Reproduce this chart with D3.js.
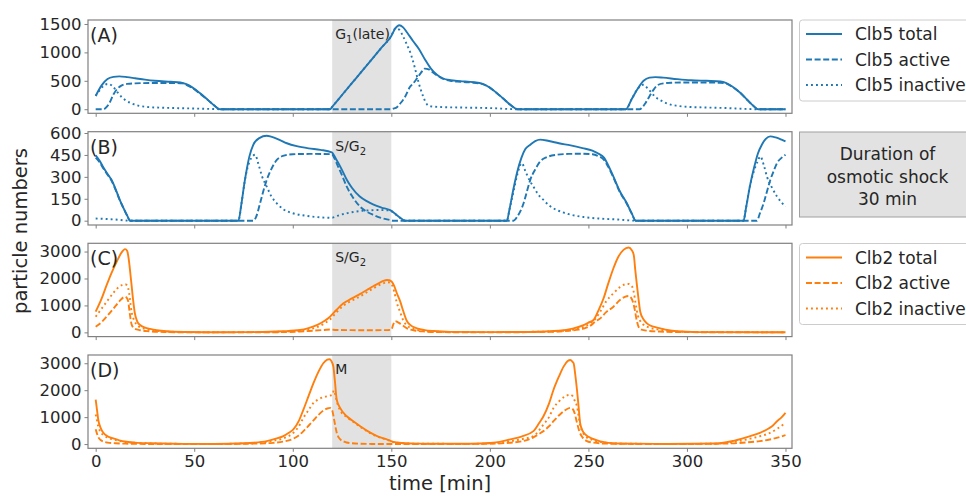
<!DOCTYPE html>
<html><head><meta charset="utf-8">
<script src="https://cdn.jsdelivr.net/npm/d3@7"></script>
<style>body{margin:0;background:#fff} text{font-family:"DejaVu Sans",sans-serif;fill:#262626}</style>
</head><body><svg id="c" width="966" height="496"></svg>
<script>
// ---------------- data ----------------
const xTicks = [0, 50, 100, 150, 200, 250, 300, 350];
const shock = [120, 150];
const panelLabels = ["(A)", "(B)", "(C)", "(D)"];
const phaseLabels = [["G", "1", "(late)"], ["S/G", "2", ""], ["S/G", "2", ""], ["M", "", ""]];
const yTicksA = [0, 500, 1000, 1500];
const yTicksB = [0, 150, 300, 450, 600];
const yTicksC = [0, 1000, 2000, 3000];
const yTicksD = [0, 1000, 2000, 3000];
const legendClb5 = ["Clb5 total", "Clb5 active", "Clb5 inactive"];
const legendClb2 = ["Clb2 total", "Clb2 active", "Clb2 inactive"];
const noteLines = ["Duration of", "osmotic shock", "30 min"];

const clb5TotalA = [[0,235],[3,420],[6,530],[9,568],[12,578],[16,565],[20,545],[25,520],[30,500],[38,482],[43,470],[46,440],[49,385],[53,280],[57,160],[60,70],[63,0],[119,0],[120,42],[122,125],[125,250],[130,458],[135,666],[140,874],[145,1082],[150,1290],[152,1420],[154,1478],[156,1440],[158,1350],[161,1200],[164,1060],[167,880],[170,720],[173,610],[176,545],[180,510],[185,495],[192,475],[196,450],[200,380],[204,270],[208,150],[211,60],[214,0],[269,0],[272,180],[275,360],[278,500],[281,555],[284,565],[288,555],[295,530],[302,510],[310,500],[317,490],[320,460],[323,400],[327,290],[331,150],[334,50],[336,0],[350,0]];
const clb5ActiveA = [[0,0],[4,0],[5,20],[7,110],[9,260],[11,360],[13,415],[16,445],[20,455],[30,462],[40,462],[44,455],[47,410],[50,350],[53,270],[57,160],[60,70],[63,0],[150,0],[151,10],[153,40],[154.5,100],[157,220],[159.5,394],[161,450],[163,542],[165,640],[167,715],[169,700],[171,650],[173,600],[176,540],[180,500],[185,482],[192,465],[196,445],[200,378],[204,268],[208,150],[211,60],[214,0],[276,0],[277,20],[279,110],[281,230],[283,340],[285,420],[288,455],[292,465],[300,470],[310,470],[317,465],[320,450],[323,395],[327,290],[331,150],[334,50],[336,0],[350,0]];
const clb5InactiveA = [[0,235],[2,330],[4,410],[6,445],[7,440],[9,390],[11,300],[13,220],[15,160],[18,105],[22,60],[26,40],[32,28],[40,20],[50,12],[58,5],[63,0],[119,0],[120,42],[122,125],[125,250],[130,458],[135,666],[140,874],[145,1082],[150,1290],[152,1420],[154,1400],[156,1280],[158,1130],[160,960],[162,720],[164,450],[166,240],[168,90],[170,50],[175,38],[185,30],[200,20],[214,0],[269,0],[272,180],[275,360],[278,430],[280,370],[282,290],[284,215],[287,150],[290,100],[295,60],[300,42],[310,30],[320,20],[336,0],[350,0]];

const clb5TotalB = [[0,448],[2,410],[4,362],[6,320],[8,280],[10,220],[12,150],[14,90],[16,35],[17.5,0],[72.4,0],[74,120],[75.5,260],[76.6,348],[78,440],[80,520],[83,565],[86.8,581],[89,575],[93,555],[97,530],[102,510],[108,495],[114,485],[119.8,468],[122,420],[124.5,360],[127.4,280],[130,225],[134,165],[138,130],[141,110],[145,90],[149.4,72],[151,58],[153,35],[155,15],[157,0],[208.6,0],[210,80],[212,220],[214,340],[216,430],[218,490],[220.5,520],[223,545],[225.5,555],[230,545],[235,530],[241,515],[247,497],[252,480],[255,460],[258,430],[260,380],[262.7,302],[266,200],[269.5,119],[272,50],[274,0],[328.7,0],[330,90],[332,240],[334,360],[336,460],[338,520],[340,560],[342.3,577],[345,570],[348,555],[350,543]];
const clb5ActiveB = [[0,432],[2,400],[4,355],[6,315],[8,275],[10,215],[12,148],[14,88],[16,33],[17.5,0],[80,0],[81.5,30],[83.4,119],[85,200],[86.8,279],[89,350],[91.9,416],[95,443],[100,455],[110,457],[119.8,455],[121,430],[123,370],[125,310],[127.4,233],[130,170],[134.2,96],[138,58],[141,39],[145,18],[149.4,5],[151,0],[212,0],[214,30],[217.1,119],[219,210],[220.5,279],[223,350],[225.5,405],[229,435],[234,451],[240,457],[247,458],[252,455],[255,442],[258,415],[260,370],[262.7,295],[266,195],[269.5,115],[272,48],[274,0],[335.5,0],[337,50],[338.9,119],[340.6,200],[342.3,279],[344,340],[345.7,394],[348,430],[350,451]];
const clb5InactiveB = [[0,15],[5,12],[10,8],[17.5,0],[72.4,0],[74,120],[75.5,260],[77,360],[79,430],[80.9,451],[82.5,390],[84.5,300],[86.8,233],[89,170],[91.9,119],[95,80],[100,51],[106,35],[112,25],[119.8,20],[123,35],[127.4,51],[132,62],[137.6,70],[143,73],[149.4,70],[151,55],[153,35],[155,15],[157,0],[208.6,0],[210,80],[212,200],[214,320],[216.2,394],[218,340],[220,280],[222.1,233],[224.5,180],[227.2,142],[230,105],[234,73],[240,45],[247.5,25],[255,15],[265,8],[274,0],[328.7,0],[330,90],[332,240],[334,340],[336,410],[337.2,440],[339,380],[340.6,302],[343,230],[345.7,165],[348,125],[350,96]];

const clb2TotalC = [[0,767],[3,1250],[5.6,1760],[8,2200],[10.7,2628],[13,2950],[14.9,3088],[16,3020],[16.8,2700],[17.5,2250],[18.2,1760],[19,1200],[19.9,700],[21,420],[22.5,272],[25,180],[27.6,130],[31,80],[36,40],[45,15],[60,5],[80,10],[95,40],[103.7,86],[108,160],[112.2,272],[116,420],[118.9,581],[122,820],[125.7,1079],[130,1260],[134,1420],[137.6,1574],[141,1720],[144,1840],[146,1910],[147.7,1946],[149,1935],[150.2,1880],[151.5,1720],[152.8,1451],[154.5,1150],[156,800],[157.9,420],[160,250],[163,150],[167,85],[171.4,50],[180,18],[200,10],[220,15],[235,60],[242,140],[247.5,272],[250,360],[252.6,458],[255,800],[257.7,1265],[260,1800],[262.7,2381],[265,2780],[267.8,3063],[270.4,3149],[272,3050],[273,2877],[273.8,2300],[274.6,1760],[275.5,1200],[276.3,767],[278,480],[279.7,335],[283,210],[286.5,150],[290,90],[295,40],[305,10],[350,5]];
const clb2ActiveC = [[0,208],[3,380],[6,620],[9,880],[12,1150],[14.9,1325],[16,1260],[16.5,1150],[17.3,700],[18.2,300],[19.5,150],[22.5,80],[27,40],[35,15],[50,0],[90,5],[103.7,30],[110,60],[116,90],[119,105],[122,90],[130,82],[140,80],[148,85],[150,100],[151,300],[152,420],[153,390],[155,300],[158,150],[162,70],[166,35],[175,10],[200,0],[230,20],[240,60],[245,100],[248,150],[251,250],[253.5,400],[256,520],[259,750],[262.7,953],[266,1200],[268.5,1320],[270.4,1351],[271.5,1300],[272.5,1150],[273.5,850],[274.5,450],[275.5,200],[277,100],[280,60],[286,30],[295,10],[350,0]];
const clb2InactiveC = [[0,581],[3,880],[6,1180],[9,1470],[12,1700],[14.9,1786],[16,1740],[17,1450],[18.2,767],[19.5,450],[20.6,300],[22.5,190],[25,130],[28,90],[32,50],[40,20],[60,5],[90,20],[103.7,60],[108,110],[112.2,190],[116,330],[118.9,480],[122,730],[125.7,990],[130,1180],[134,1330],[137.6,1490],[141,1640],[144,1760],[146,1820],[147.7,1860],[149,1850],[150.2,1780],[151.5,1500],[152.8,1100],[154.5,750],[156,450],[157.9,260],[160,160],[163,90],[167,50],[175,20],[200,10],[230,30],[240,80],[245,140],[248,220],[251,335],[253.5,500],[256,767],[259,1150],[262.7,1451],[266,1680],[268.5,1780],[270.4,1798],[272,1720],[273,1500],[274,1050],[275,650],[276.3,420],[278,280],[280,200],[285,110],[290,60],[300,20],[350,5]];

const clb2TotalD = [[0,1647],[0.7,1250],[1.3,910],[2.5,600],[3.9,420],[6,290],[8.9,210],[12,140],[15.7,88],[20,55],[27.6,30],[40,10],[60,5],[75,30],[80,50],[86.8,111],[91,190],[95.2,295],[98,420],[100.3,542],[103,850],[105.4,1279],[108,1780],[110.5,2263],[113,2680],[115.5,3000],[117.5,3130],[118.6,3148],[119.6,3080],[120.6,2875],[121.3,2400],[122.3,1647],[124,1342],[127.4,1032],[130,880],[134.2,663],[138,480],[141,358],[144,260],[147.7,173],[151,80],[155,40],[165,15],[190,10],[200,40],[205,80],[210.3,173],[216,280],[222.1,480],[225,780],[227.2,1032],[230,1500],[232.3,2016],[235,2500],[237.4,2875],[239.5,3080],[240.8,3122],[242,3050],[242.5,3000],[243.3,2600],[244.2,2016],[245,1400],[245.8,789],[247,500],[248.4,358],[252,200],[256,100],[264.5,20],[290,5],[315,20],[323.7,120],[332.1,295],[337,420],[340.6,542],[343,650],[345.7,848],[348,990],[350,1157]];
const clb2ActiveD = [[0,552],[0.7,380],[1.3,260],[2.5,150],[4,90],[6,55],[10,30],[15,15],[25,5],[60,0],[80,15],[90,45],[95,90],[100.3,200],[103,320],[105.4,480],[108,680],[110.5,880],[113,1080],[115.5,1240],[117.5,1320],[119,1342],[120,1250],[121,900],[122.3,420],[124,180],[126,90],[130,30],[140,5],[160,0],[200,10],[210,50],[216,100],[222.1,250],[225,380],[227.2,480],[230,660],[232.3,848],[235,1060],[238,1250],[240.8,1342],[242,1300],[243,1150],[244.2,789],[245.5,450],[247,250],[249,120],[252,60],[260,15],[290,0],[320,20],[330,60],[337,110],[342,170],[346,240],[350,332]];
const clb2InactiveD = [[0,1095],[0.7,870],[1.3,650],[2.5,450],[3.9,330],[6,235],[8.9,170],[12,120],[15.7,70],[20,45],[27.6,25],[40,10],[60,5],[80,35],[86.8,80],[91,140],[95.2,210],[98,300],[100.3,420],[103,650],[105.4,973],[108,1260],[110.5,1525],[113,1660],[115.5,1740],[117.3,1770],[119,1800],[120.2,1840],[120.8,1990],[121.5,1850],[122.3,1600],[124,1250],[127.4,1000],[130,860],[134.2,640],[138,460],[141,340],[144,250],[147.7,165],[151,75],[155,35],[165,12],[190,8],[205,50],[210,100],[216,180],[222.1,300],[227.2,726],[230,1000],[232.3,1342],[235,1580],[238,1760],[240.8,1832],[242,1780],[243,1620],[244.2,1400],[245.8,700],[247,450],[248.4,300],[252,150],[256,80],[264.5,20],[290,5],[315,15],[323.7,80],[332.1,200],[337,290],[340.6,370],[345.7,560],[348,680],[350,789]];

// ---------------- layout ----------------
const BLUE = "#1f77b4", ORANGE = "#ff7f0e";
const L = 88, R = 792, PH = 93.3;
const tops = [20, 131.7, 243.3, 355];
const yDomains = [[-72, 1570], [-29.5, 609], [-157, 3306], [-157, 3306]];
const yTicksAll = [yTicksA, yTicksB, yTicksC, yTicksD];
const seriesAll = [
  [clb5TotalA, clb5ActiveA, clb5InactiveA],
  [clb5TotalB, clb5ActiveB, clb5InactiveB],
  [clb2TotalC, clb2ActiveC, clb2InactiveC],
  [clb2TotalD, clb2ActiveD, clb2InactiveD]
];
const colors = [BLUE, BLUE, ORANGE, ORANGE];
const dashes = [null, "6,2.6", "1.9,3.1"];
const FRAME = "#808080";

const svg = d3.select("#c");
const x = d3.scaleLinear().domain([-3.9, 353.3]).range([L, R]);

tops.forEach((top, i) => {
  const y = d3.scaleLinear().domain(yDomains[i]).range([top + PH, top]);
  const g = svg.append("g");
  const clipId = "clip" + i;
  svg.append("clipPath").attr("id", clipId).append("rect")
    .attr("x", L).attr("y", top).attr("width", R - L).attr("height", PH);

  // shock shading
  g.append("rect").attr("x", x(shock[0])).attr("y", top)
    .attr("width", x(shock[1]) - x(shock[0])).attr("height", PH)
    .attr("fill", "#e2e2e2");

  // phase label
  const ph = phaseLabels[i];
  const t = g.append("text").attr("x", x(shock[0]) + 3).attr("y", top + 19)
    .style("font-size", "14px");
  t.append("tspan").text(ph[0]);
  if (ph[1]) t.append("tspan").attr("dy", 4).style("font-size", "10px").text(ph[1]);
  if (ph[2]) t.append("tspan").attr("dy", -4).text(ph[2]);

  // lines
  const line = d3.line().x(d => x(d[0])).y(d => y(d[1])).curve(d3.curveMonotoneX);
  const lg = g.append("g").attr("clip-path", `url(#${clipId})`);
  seriesAll[i].forEach((s, k) => {
    lg.append("path").attr("d", line(s)).attr("fill", "none")
      .attr("stroke", colors[i]).attr("stroke-width", 1.9)
      .attr("stroke-dasharray", dashes[k]);
  });

  // frame
  g.append("rect").attr("x", L).attr("y", top).attr("width", R - L).attr("height", PH)
    .attr("fill", "none").attr("stroke", FRAME).attr("stroke-width", 1.2);

  // y axis
  const ya = g.append("g").attr("transform", `translate(${L},0)`)
    .call(d3.axisLeft(y).tickValues(yTicksAll[i]).tickSize(3.5).tickPadding(3).tickFormat(d3.format("d")));
  ya.select(".domain").remove();
  ya.selectAll("line").attr("stroke", FRAME);
  ya.selectAll("text").style("font-size", "16.5px").style("font-family", "DejaVu Sans").attr("fill", "#262626");

  // x axis
  const xa = g.append("g").attr("transform", `translate(0,${top + PH})`)
    .call(d3.axisBottom(x).tickValues(xTicks).tickSize(3.5).tickPadding(3)
      .tickFormat(i === 3 ? d3.format("d") : () => ""));
  xa.select(".domain").remove();
  xa.selectAll("line").attr("stroke", FRAME);
  xa.selectAll("text").style("font-size", "16.5px").style("font-family", "DejaVu Sans").attr("fill", "#262626");

  // panel label
  g.append("text").attr("x", L + 2).attr("y", top + 22).style("font-size", "19px").text(panelLabels[i]);
});

// axis titles
svg.append("text").attr("x", (L + R) / 2).attr("y", 490).attr("text-anchor", "middle")
  .style("font-size", "19.5px").text("time [min]");
svg.append("text").attr("transform", "translate(27,231) rotate(-90)").attr("text-anchor", "middle")
  .style("font-size", "19.5px").text("particle numbers");

// legends
function legend(top, items, color) {
  const g = svg.append("g");
  g.append("rect").attr("x", 799.5).attr("y", top).attr("width", 190).attr("height", 81)
    .attr("rx", 3).attr("fill", "#fff").attr("stroke", "#cccccc").attr("stroke-width", 1);
  items.forEach((name, k) => {
    const cy = top + 14 + k * 25.5;
    g.append("line").attr("x1", 806).attr("x2", 842).attr("y1", cy).attr("y2", cy)
      .attr("stroke", color).attr("stroke-width", 1.9).attr("stroke-dasharray", dashes[k]);
    g.append("text").attr("x", 855).attr("y", cy + 6).style("font-size", "17px").text(name);
  });
}
legend(20, legendClb5, BLUE);
legend(243.5, legendClb2, ORANGE);

// note box
const nb = svg.append("g");
nb.append("rect").attr("x", 799.5).attr("y", 132).attr("width", 190).attr("height", 85)
  .attr("fill", "#e2e2e2").attr("stroke", "#a0a0a0").attr("stroke-width", 1);
noteLines.forEach((s, k) => {
  nb.append("text").attr("x", 887.5).attr("y", 160 + k * 22.5).attr("text-anchor", "middle")
    .style("font-size", "17px").text(s);
});
</script>
</body></html>
